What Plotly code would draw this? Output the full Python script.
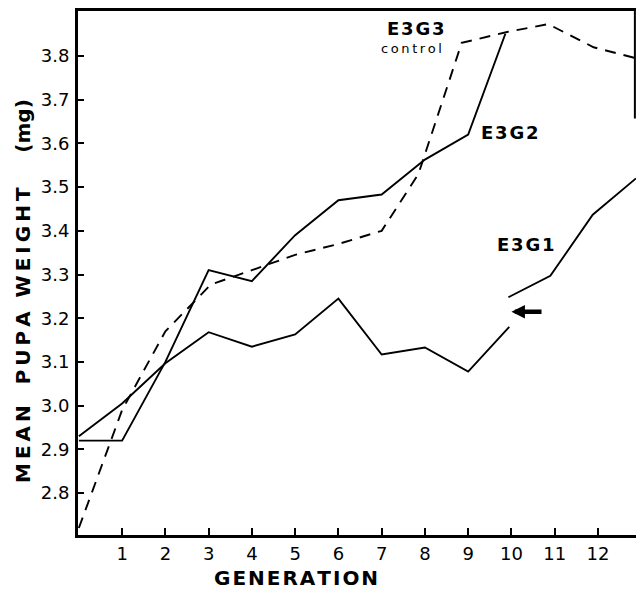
import plotly.graph_objects as go

# ---- data ----
g2_gen = [0, 1, 2, 3, 4, 5, 6, 7, 8, 9, 9.86]
g2_wt = [2.92, 2.92, 3.10, 3.31, 3.285, 3.39, 3.47, 3.483, 3.563, 3.62, 3.851]

g3_gen = [0, 1, 2, 3.05, 4, 5, 6, 7, 7.85, 8.85, 9.9, 10.85, 11.9, 12.88]
g3_wt = [2.72, 2.99, 3.17, 3.277, 3.31, 3.345, 3.37, 3.40, 3.53, 3.83, 3.855, 3.873, 3.82, 3.795]

g1a_gen = [0, 1, 2, 3, 4, 5, 6, 7, 8, 9, 9.95]
g1a_wt = [2.93, 3.005, 3.097, 3.168, 3.135, 3.163, 3.245, 3.117, 3.133, 3.078, 3.18]
g1b_gen = [9.93, 10.9, 11.88, 12.88]
g1b_wt = [3.248, 3.297, 3.437, 3.52]

x_ticks = [1, 2, 3, 4, 5, 6, 7, 8, 9, 10, 11, 12]
y_ticks = [2.8, 2.9, 3.0, 3.1, 3.2, 3.3, 3.4, 3.5, 3.6, 3.7, 3.8]
y_tick_text = ["2.8", "2.9", "3.0", "3.1", "3.2", "3.3", "3.4", "3.5", "3.6", "3.7", "3.8"]

FONT = "DejaVu Sans"
HAIR = "\u200a"
THIN = "\u2009"
NB = "\u00a0"


def spaced(s, sep=HAIR):
    return sep.join(list(s))


fig = go.Figure()
line_style = dict(color="black", width=1.9)
fig.add_trace(go.Scatter(x=g2_gen, y=g2_wt, mode="lines", line=line_style, name="E3G2"))
fig.add_trace(go.Scatter(x=g3_gen, y=g3_wt, mode="lines",
                         line=dict(color="black", width=1.9, dash="11px,8px"), name="E3G3"))
fig.add_trace(go.Scatter(x=g1a_gen, y=g1a_wt, mode="lines", line=line_style, name="E3G1"))
fig.add_trace(go.Scatter(x=g1b_gen, y=g1b_wt, mode="lines", line=line_style, name="E3G1b"))

lbl_font = dict(family=FONT, size=18, color="black", weight=600)
ytitle = (spaced("MEAN", THIN) + NB * 3 + spaced("PUPA", THIN) + NB * 2 + spaced("WEIGHT", THIN)
          + NB * 5 + "(mg)")
annotations = [
    dict(x=7.79, y=3.864, text=spaced("E3G3"), font=lbl_font),
    dict(x=7.70, y=3.818, text=spaced("control", THIN), font=dict(family=FONT, size=13, color="black")),
    dict(x=9.96, y=3.626, text=spaced("E3G2"), font=lbl_font),
    dict(x=10.33, y=3.368, text=spaced("E3G1"), font=lbl_font),
    dict(xref="paper", yref="paper", x=(23 - 78) / 558, y=(535 - 291) / 524, textangle=-90,
         text=ytitle, font=dict(family=FONT, size=20, color="black", weight="bold")),
    dict(xref="paper", yref="paper", x=(296 - 78) / 558, y=(535 - 578) / 524,
         text=spaced("GENERATION"), font=dict(family=FONT, size=20, color="black", weight="bold")),
]
for a in annotations:
    a.setdefault("xref", "x")
    a.setdefault("yref", "y")
    a.setdefault("showarrow", False)
    a.setdefault("xanchor", "center")
    a.setdefault("yanchor", "middle")

annotations.append(dict(x=10.0, y=3.215, ax=10.73, ay=3.215, xref="x", yref="y", axref="x", ayref="y",
                        text="", showarrow=True, arrowhead=2, arrowsize=0.6, arrowwidth=4.5,
                        arrowcolor="black"))

tick_font = dict(family=FONT, size=18, color="black")
fig.update_layout(
    width=636, height=589,
    margin=dict(l=78, r=0, t=11, b=54),
    paper_bgcolor="white", plot_bgcolor="white",
    showlegend=False,
    annotations=annotations,
    shapes=[dict(type="line", xref="paper", yref="y", x0=0.998, x1=0.998, y0=3.657, y1=3.903,
                 line=dict(color="black", width=2))],
    xaxis=dict(range=[-0.02, 12.88], tickvals=x_ticks, ticktext=[str(v) for v in x_ticks],
               ticks="inside", ticklen=7, tickwidth=1.5, tickcolor="black",
               showline=True, linecolor="black", linewidth=3, mirror=True,
               showgrid=False, zeroline=False, ticklabelstandoff=0,
               tickfont=tick_font),
    yaxis=dict(range=[2.704, 3.903], tickvals=y_ticks, ticktext=y_tick_text,
               ticks="inside", ticklen=6, tickwidth=1.5, tickcolor="black",
               showline=True, linecolor="black", linewidth=3, mirror=False,
               showgrid=False, zeroline=False, ticklabelstandoff=2,
               tickfont=tick_font),
)

fig.write_html("out.html")
